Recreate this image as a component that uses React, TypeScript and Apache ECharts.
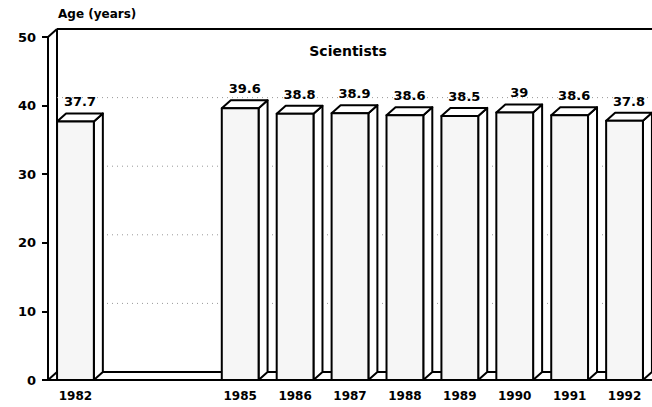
import React, { useEffect, useRef } from "react";
import * as echarts from "echarts";

const years = ["1982", "1983", "1984", "1985", "1986", "1987", "1988", "1989", "1990", "1991", "1992"];
const ages: (number | null)[] = [37.7, null, null, 39.6, 38.8, 38.9, 38.6, 38.5, 39, 38.6, 37.8];
const yTicks = [0, 10, 20, 30, 40, 50];
const titleText = "Scientists";
const yAxisTitle = "Age (years)";

const DX = 9;
const DY = 8;
const FONT = "'DejaVu Sans', 'Liberation Sans', Arial, sans-serif";

export default function App() {
  const ref = useRef<HTMLDivElement>(null);
  useEffect(() => {
    document.body.style.margin = "0";
    const chart = echarts.init(ref.current!, null, { renderer: "svg" });
    const barData = years
      .map((y, i) => (ages[i] == null ? null : [i, ages[i] as number]))
      .filter((d) => d !== null);

    chart.setOption({
      animation: false,
      backgroundColor: "#ffffff",
      grid: { left: 48, right: -4, top: 37, bottom: 27, containLabel: false },
      title: {
        text: titleText,
        left: 343,
        top: 39,
        textAlign: "center",
        textStyle: { fontFamily: FONT, fontWeight: "bold", fontSize: 14, color: "#000" },
      },
      graphic: [
        {
          type: "text",
          left: 58,
          top: 8,
          style: { text: yAxisTitle, font: `bold 12px ${FONT}`, fill: "#000" },
        },
      ],
      xAxis: {
        type: "category",
        data: years,
        axisLine: { show: true, lineStyle: { color: "#000", width: 2 } },
        axisTick: { show: false },
        axisLabel: {
          interval: 0,
          margin: 10,
          color: "#000",
          fontFamily: FONT,
          fontWeight: "bold",
          fontSize: 12,
          formatter: (v: string, i: number) => (ages[i] == null ? "" : v),
        },
        splitLine: { show: false },
      },
      yAxis: {
        type: "value",
        min: 0,
        max: 50,
        interval: 10,
        axisLine: { show: true, lineStyle: { color: "#000", width: 2 } },
        axisTick: { show: true, length: 6, lineStyle: { color: "#000", width: 2 } },
        axisLabel: {
          margin: 12,
          color: "#000",
          fontFamily: FONT,
          fontWeight: "bold",
          fontSize: 13,
        },
        splitLine: { show: false },
      },
      series: [
        {
          type: "custom",
          z: 1,
          clip: false,
          silent: true,
          data: [[0, 0]],
          renderItem: (params: any, api: any) => {
            const cs = params.coordSys;
            const left = cs.x;
            const right = cs.x + cs.width;
            const bottom = cs.y + cs.height;
            const top = cs.y;
            const children: any[] = [];
            const line = (x1: number, y1: number, x2: number, y2: number) => ({
              type: "line",
              shape: { x1, y1, x2, y2 },
              style: { stroke: "#000", lineWidth: 2 },
            });
            children.push(line(left, top, left + DX, top - DY));
            children.push(line(left + DX, top - DY, right, top - DY));
            children.push(line(left + DX, top - DY, left + DX, bottom - DY));
            children.push(line(left, bottom, left + DX, bottom - DY));
            children.push(line(left + DX, bottom - DY, right, bottom - DY));
            yTicks.forEach((t) => {
              if (t === 0 || t === 50) return;
              const p = api.coord([0, t]);
              children.push({
                type: "line",
                shape: { x1: left + DX, y1: p[1] - DY, x2: right, y2: p[1] - DY },
                style: { stroke: "#999", lineWidth: 1, lineDash: [1, 4] },
              });
            });
            return { type: "group", children };
          },
        },
        {
          type: "custom",
          z: 2,
          clip: false,
          data: barData,
          renderItem: (params: any, api: any) => {
            const i = api.value(0);
            const v = api.value(1);
            const base = api.coord([i, 0]);
            const topP = api.coord([i, v]);
            const bw = api.size([1, 0])[0] * 0.67;
            const L = base[0] - bw / 2;
            const R = base[0] + bw / 2;
            const T = topP[1];
            const B = base[1];
            const stroke = { stroke: "#000", lineWidth: 2, lineJoin: "round" };
            return {
              type: "group",
              children: [
                {
                  type: "polygon",
                  shape: { points: [[R, T], [R + DX, T - DY], [R + DX, B - DY], [R, B]] },
                  style: { fill: "#ffffff", ...stroke },
                },
                {
                  type: "polygon",
                  shape: { points: [[L, T], [L + DX, T - DY], [R + DX, T - DY], [R, T]] },
                  style: { fill: "#ffffff", ...stroke },
                },
                {
                  type: "rect",
                  shape: { x: L, y: T, width: bw, height: B - T },
                  style: { fill: "#f6f6f6", ...stroke },
                },
                {
                  type: "text",
                  x: (L + R) / 2 + DX / 2,
                  y: T - DY - 5,
                  style: {
                    text: String(v),
                    font: `bold 13px ${FONT}`,
                    fill: "#000",
                    align: "center",
                    verticalAlign: "bottom",
                  },
                },
              ],
            };
          },
        },
      ],
    });
    return () => chart.dispose();
  }, []);
  return <div ref={ref} style={{ width: 652, height: 407 }} />;
}
